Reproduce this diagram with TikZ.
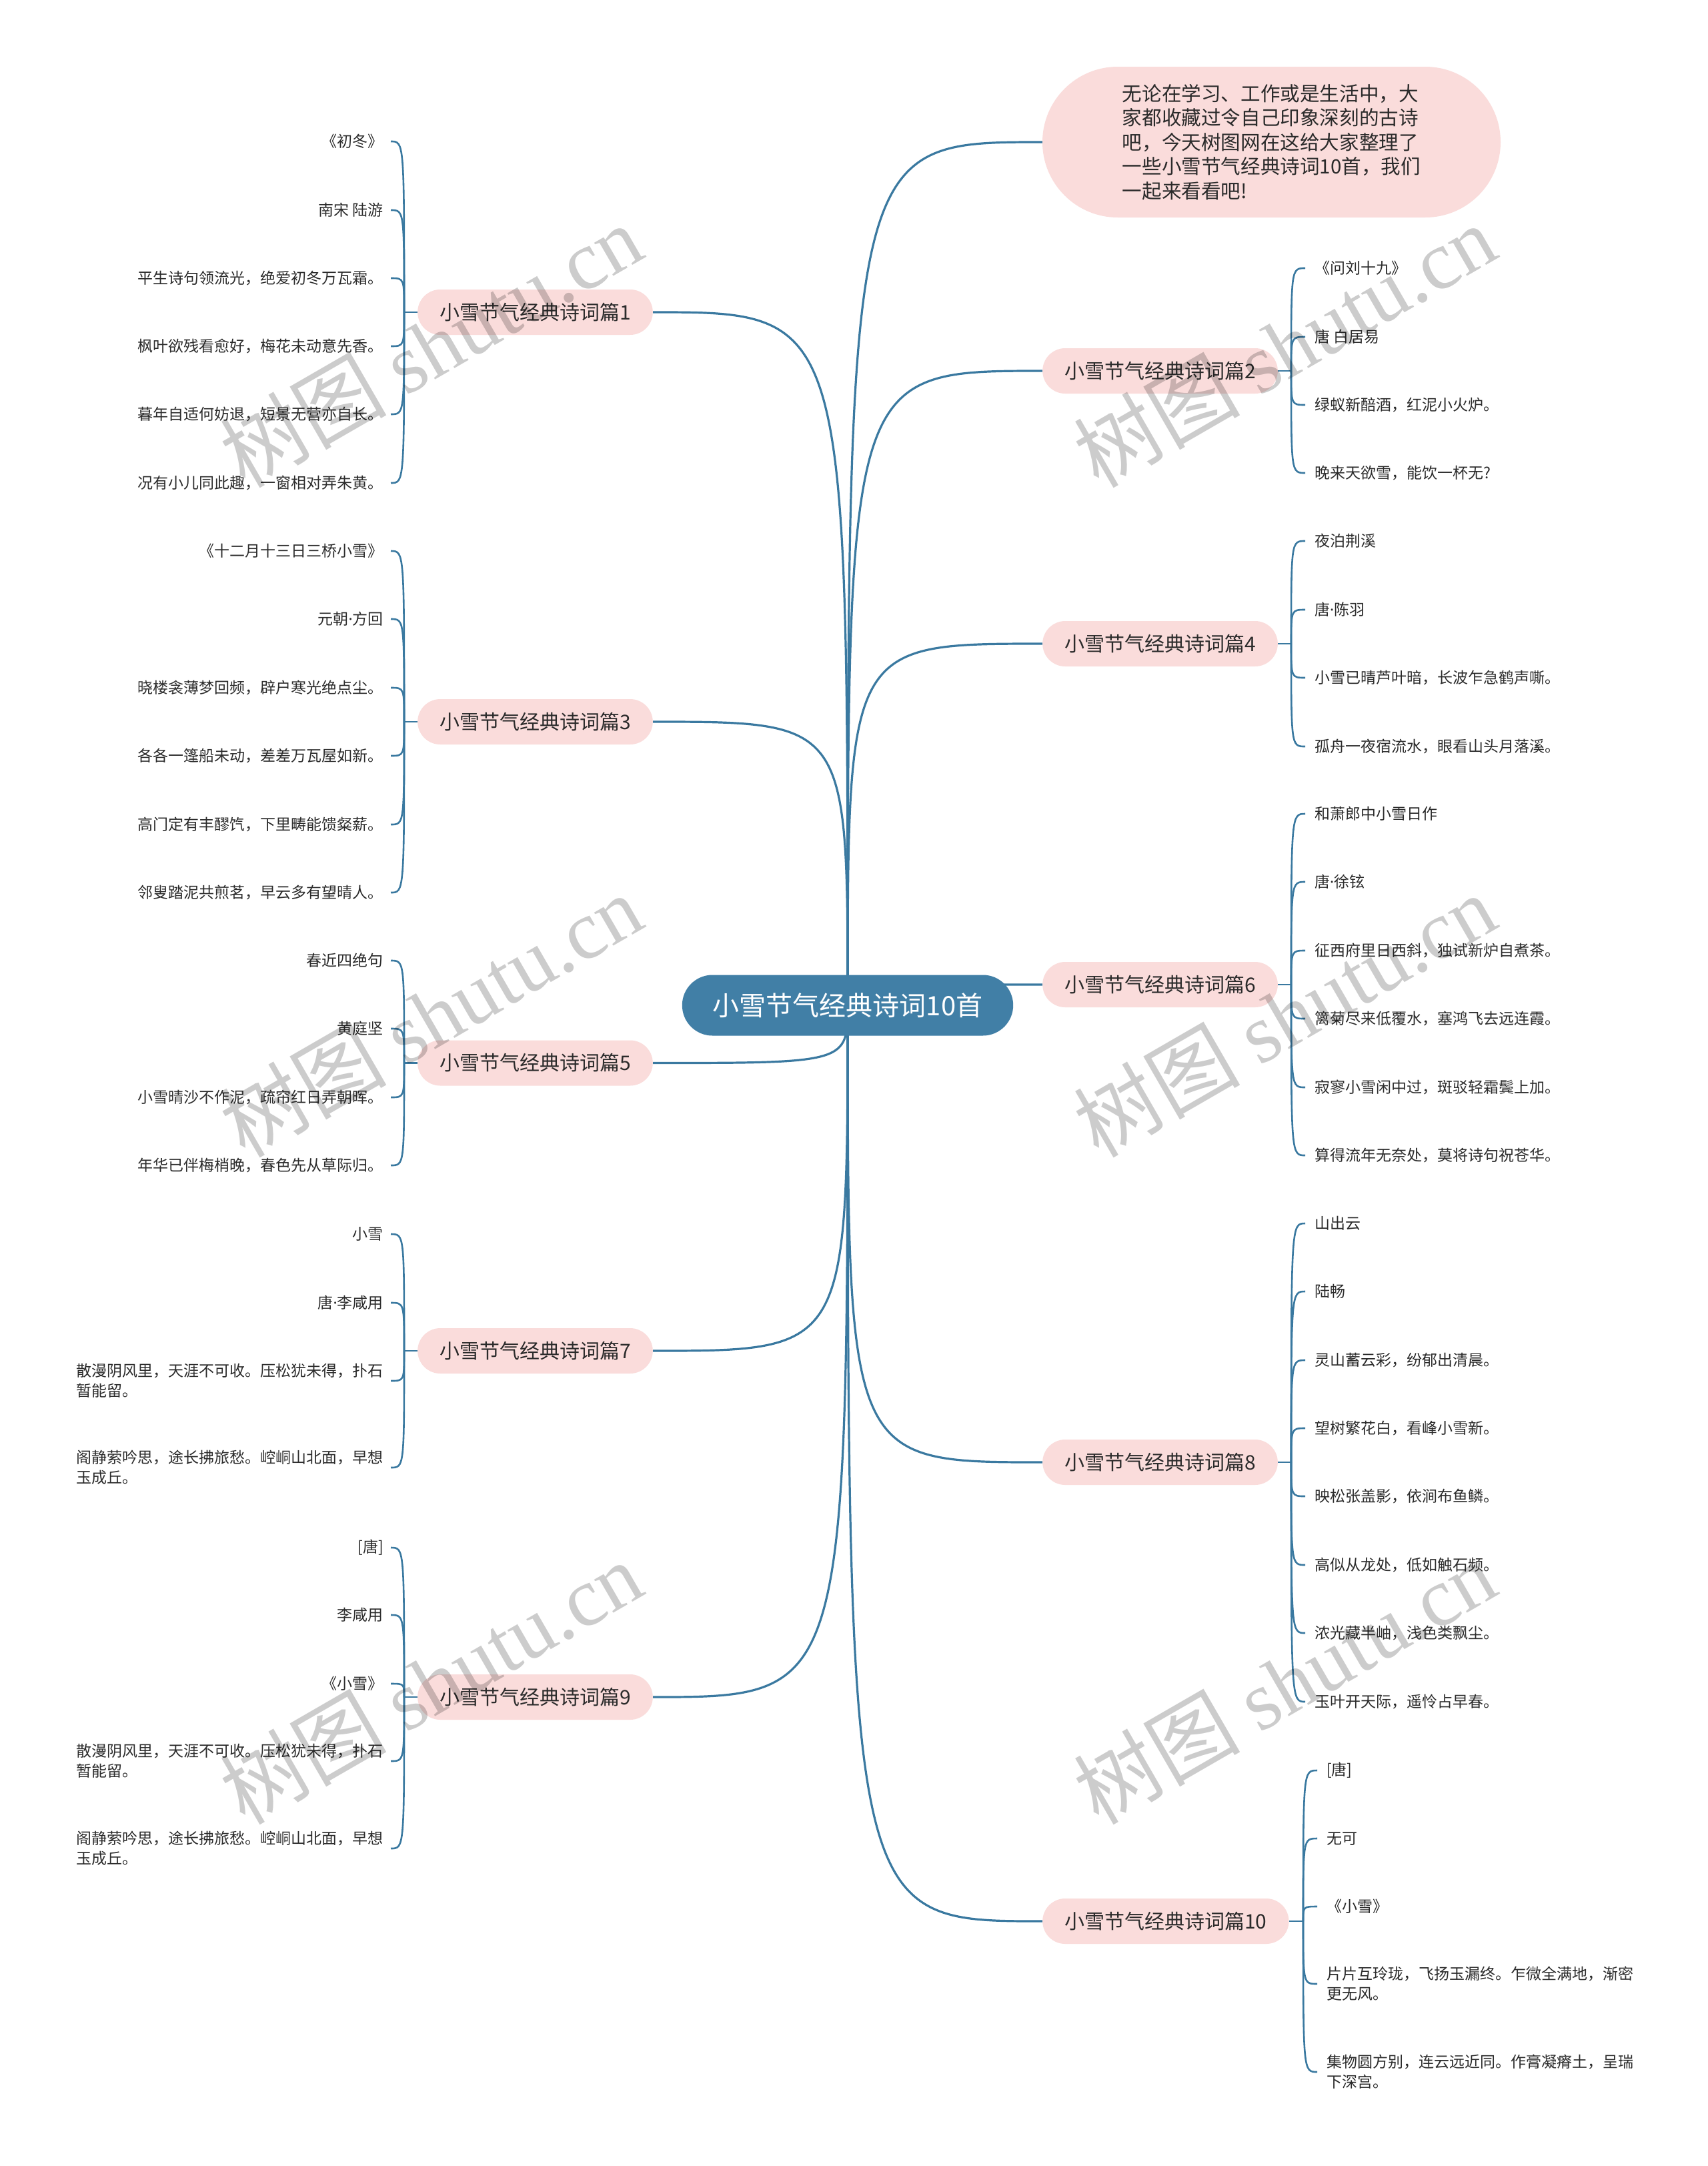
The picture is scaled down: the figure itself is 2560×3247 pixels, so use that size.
\documentclass[tikz,border=0pt]{standalone}
\usepackage{fontspec}
\setmainfont{Noto Sans CJK SC}
\newfontfamily\wmserif{Liberation Serif}
\newfontfamily\dotfont{Noto Sans}
\newcommand{\mdot}{{\dotfont ·}}
\usetikzlibrary{backgrounds}
\definecolor{linec}{HTML}{3A79A0}
\definecolor{rootc}{HTML}{417FA6}
\definecolor{pinkc}{HTML}{FADCDB}
\definecolor{txtc}{HTML}{2B2B2B}
\begin{document}
\begin{tikzpicture}[x=1pt,y=-1pt,
  mainline/.style={draw=linec, line width=3.2pt},
  leafline/.style={draw=linec, line width=2.6pt},
  rootnode/.style={fill=rootc, text=white, rounded corners=45.5pt, minimum height=91pt, inner xsep=46pt, inner ysep=0pt, font=\fontsize{40}{48}\selectfont},
  branchL/.style={anchor=east, fill=pinkc, text=txtc, rounded corners=34pt, minimum height=68pt, inner xsep=33pt, inner ysep=0pt, font=\fontsize{30}{36}\selectfont},
  branchR/.style={branchL, anchor=west},
  intronode/.style={fill=pinkc, text=txtc, rounded corners=113pt, minimum width=687pt, minimum height=226pt, inner sep=0pt, align=left, font=\fontsize{29.6}{36.5}\selectfont},
  leafL/.style={anchor=east, text=txtc, inner xsep=11pt, inner ysep=3pt, align=left, font=\fontsize{23}{30}\selectfont},
  leafR/.style={leafL, anchor=west, inner xsep=14pt},
  wm/.style={rotate=30, text=black, text opacity=0.2, font=\fontsize{125}{125}\selectfont}
]
\path[use as bounding box] (0,0) rectangle (2560,3247);

% root and intro
\node[rootnode] (root) at (1271,1507) {小雪节气经典诗词10首};
\node[intronode] (intro) at (1906.5,213) {无论在学习、工作或是生活中，大\\家都收藏过令自己印象深刻的古诗\\吧，今天树图网在这给大家整理了\\一些小雪节气经典诗词10首，我们\\一起来看看吧!};

% branches
\node[branchL] (b1) at (979,468) {小雪节气经典诗词篇1};
\node[branchR] (b2) at (1563,556) {小雪节气经典诗词篇2};
\node[branchL] (b3) at (979,1082) {小雪节气经典诗词篇3};
\node[branchR] (b4) at (1563,965) {小雪节气经典诗词篇4};
\node[branchL] (b5) at (979,1593.5) {小雪节气经典诗词篇5};
\node[branchR] (b6) at (1563,1476) {小雪节气经典诗词篇6};
\node[branchL] (b7) at (979,2025) {小雪节气经典诗词篇7};
\node[branchR] (b8) at (1563,2192) {小雪节气经典诗词篇8};
\node[branchL] (b9) at (979,2544) {小雪节气经典诗词篇9};
\node[branchR] (b10) at (1563,2880) {小雪节气经典诗词篇10};

% leaves of b1
\node[leafL] (l11) at (586,212) {《初冬》};
\node[leafL] (l12) at (586,315) {南宋 陆游};
\node[leafL] (l13) at (586,417) {平生诗句领流光，绝爱初冬万瓦霜。};
\node[leafL] (l14) at (586,519) {枫叶欲残看愈好，梅花未动意先香。};
\node[leafL] (l15) at (586,621) {暮年自适何妨退，短景无营亦自长。};
\node[leafL] (l16) at (586,724) {况有小儿同此趣，一窗相对弄朱黄。};
% leaves of b3
\node[leafL] (l31) at (586,826) {《十二月十三日三桥小雪》};
\node[leafL] (l32) at (586,928) {元朝\mdot 方回};
\node[leafL] (l33) at (586,1031) {晓楼衾薄梦回频，辟户寒光绝点尘。};
\node[leafL] (l34) at (586,1133) {各各一篷船未动，差差万瓦屋如新。};
\node[leafL] (l35) at (586,1236) {高门定有丰醪饩，下里畴能馈粲薪。};
\node[leafL] (l36) at (586,1338) {邻叟踏泥共煎茗，早云多有望晴人。};
% leaves of b5
\node[leafL] (l51) at (586,1440) {春近四绝句};
\node[leafL] (l52) at (586,1542) {黄庭坚};
\node[leafL] (l53) at (586,1645) {小雪晴沙不作泥，疏帘红日弄朝晖。};
\node[leafL] (l54) at (586,1747) {年华已伴梅梢晚，春色先从草际归。};
% leaves of b7
\node[leafL] (l71) at (586,1850) {小雪};
\node[leafL] (l72) at (586,1953) {唐\mdot 李咸用};
\node[leafL] (l73) at (586,2070) {散漫阴风里，天涯不可收。压松犹未得，扑石\\暂能留。};
\node[leafL] (l74) at (586,2200) {阁静萦吟思，途长拂旅愁。崆峒山北面，早想\\玉成丘。};
% leaves of b9
\node[leafL] (l91) at (586,2320) {[唐]};
\node[leafL] (l92) at (586,2421) {李咸用};
\node[leafL] (l93) at (586,2524) {《小雪》};
\node[leafL] (l94) at (586,2640) {散漫阴风里，天涯不可收。压松犹未得，扑石\\暂能留。};
\node[leafL] (l95) at (586,2771) {阁静萦吟思，途长拂旅愁。崆峒山北面，早想\\玉成丘。};

% leaves of b2
\node[leafR] (l21) at (1957,402) {《问刘十九》};
\node[leafR] (l22) at (1957,505) {唐 白居易};
\node[leafR] (l23) at (1957,607) {绿蚁新醅酒，红泥小火炉。};
\node[leafR] (l24) at (1957,709) {晚来天欲雪，能饮一杯无?};
% leaves of b4
\node[leafR] (l41) at (1957,811) {夜泊荆溪};
\node[leafR] (l42) at (1957,914) {唐\mdot 陈羽};
\node[leafR] (l43) at (1957,1016) {小雪已晴芦叶暗，长波乍急鹤声嘶。};
\node[leafR] (l44) at (1957,1119) {孤舟一夜宿流水，眼看山头月落溪。};
% leaves of b6
\node[leafR] (l61) at (1957,1220) {和萧郎中小雪日作};
\node[leafR] (l62) at (1957,1322) {唐\mdot 徐铉};
\node[leafR] (l63) at (1957,1425) {征西府里日西斜，独试新炉自煮茶。};
\node[leafR] (l64) at (1957,1527) {篱菊尽来低覆水，塞鸿飞去远连霞。};
\node[leafR] (l65) at (1957,1630) {寂寥小雪闲中过，斑驳轻霜鬓上加。};
\node[leafR] (l66) at (1957,1732) {算得流年无奈处，莫将诗句祝苍华。};
% leaves of b8
\node[leafR] (l81) at (1957,1834) {山出云};
\node[leafR] (l82) at (1957,1936) {陆畅};
\node[leafR] (l83) at (1957,2039) {灵山蓄云彩，纷郁出清晨。};
\node[leafR] (l84) at (1957,2141) {望树繁花白，看峰小雪新。};
\node[leafR] (l85) at (1957,2243) {映松张盖影，依涧布鱼鳞。};
\node[leafR] (l86) at (1957,2346) {高似从龙处，低如触石频。};
\node[leafR] (l87) at (1957,2448) {浓光藏半岫，浅色类飘尘。};
\node[leafR] (l88) at (1957,2551) {玉叶开天际，遥怜占早春。};
% leaves of b10
\node[leafR] (l101) at (1975,2654) {[唐]};
\node[leafR] (l102) at (1975,2756) {无可};
\node[leafR] (l103) at (1975,2858) {《小雪》};
\node[leafR] (l104) at (1975,2974) {片片互玲珑，飞扬玉漏终。乍微全满地，渐密\\更无风。};
\node[leafR] (l105) at (1975,3106) {集物圆方别，连云远近同。作膏凝瘠土，呈瑞\\下深宫。};

% trunk points
\coordinate (t1) at (606,468);
\coordinate (t3) at (606,1082);
\coordinate (t5) at (606,1593.5);
\coordinate (t7) at (606,2025);
\coordinate (t9) at (606,2544);
\coordinate (t2) at (1936,556);
\coordinate (t4) at (1936,965);
\coordinate (t6) at (1936,1476);
\coordinate (t8) at (1936,2192);
\coordinate (t10) at (1954,2880);

\begin{pgfonlayer}{background}
  \fill[white] (0,0) rectangle (2560,3247);
  % main connectors
  \draw[mainline] (root.center) .. controls (root.center |- intro.west) .. (intro.west);
  \foreach \b in {b1,b3,b5,b7,b9}
    \draw[mainline] (root.center) .. controls (root.center |- \b.east) .. (\b.east);
  \foreach \b in {b2,b4,b6,b8,b10}
    \draw[mainline] (root.center) .. controls (root.center |- \b.west) .. (\b.west);
  % stubs
  \foreach \b/\t in {b1/t1,b3/t3,b5/t5,b7/t7,b9/t9}
    \draw[leafline] (\b.west) -- (\t);
  \foreach \b/\t in {b2/t2,b4/t4,b6/t6,b8/t8,b10/t10}
    \draw[leafline] (\b.east) -- (\t);
  % left leaves
  \foreach \t/\l in {t1/l11,t1/l12,t1/l13,t1/l14,t1/l15,t1/l16,
                     t3/l31,t3/l32,t3/l33,t3/l34,t3/l35,t3/l36,
                     t5/l51,t5/l52,t5/l53,t5/l54,
                     t7/l71,t7/l72,t7/l73,t7/l74,
                     t9/l91,t9/l92,t9/l93,t9/l94,t9/l95}
    \draw[leafline] (\t) .. controls (\t |- \l.east) .. (\l.east);
  % right leaves
  \foreach \t/\l in {t2/l21,t2/l22,t2/l23,t2/l24,
                     t4/l41,t4/l42,t4/l43,t4/l44,
                     t6/l61,t6/l62,t6/l63,t6/l64,t6/l65,t6/l66,
                     t8/l81,t8/l82,t8/l83,t8/l84,t8/l85,t8/l86,t8/l87,t8/l88,
                     t10/l101,t10/l102,t10/l103,t10/l104,t10/l105}
    \draw[leafline] (\t) .. controls (\t |- \l.west) .. (\l.west);
\end{pgfonlayer}

% watermarks
\node[wm] (wm1) at (646,518) {树图 {\wmserif shutu.cn}};
\node[wm] (wm2) at (1926,518) {树图 {\wmserif shutu.cn}};
\node[wm] (wm3) at (646,1522) {树图 {\wmserif shutu.cn}};
\node[wm] (wm4) at (1926,1522) {树图 {\wmserif shutu.cn}};
\node[wm] (wm5) at (646,2522) {树图 {\wmserif shutu.cn}};
\node[wm] (wm6) at (1926,2522) {树图 {\wmserif shutu.cn}};
\end{tikzpicture}
\end{document}
